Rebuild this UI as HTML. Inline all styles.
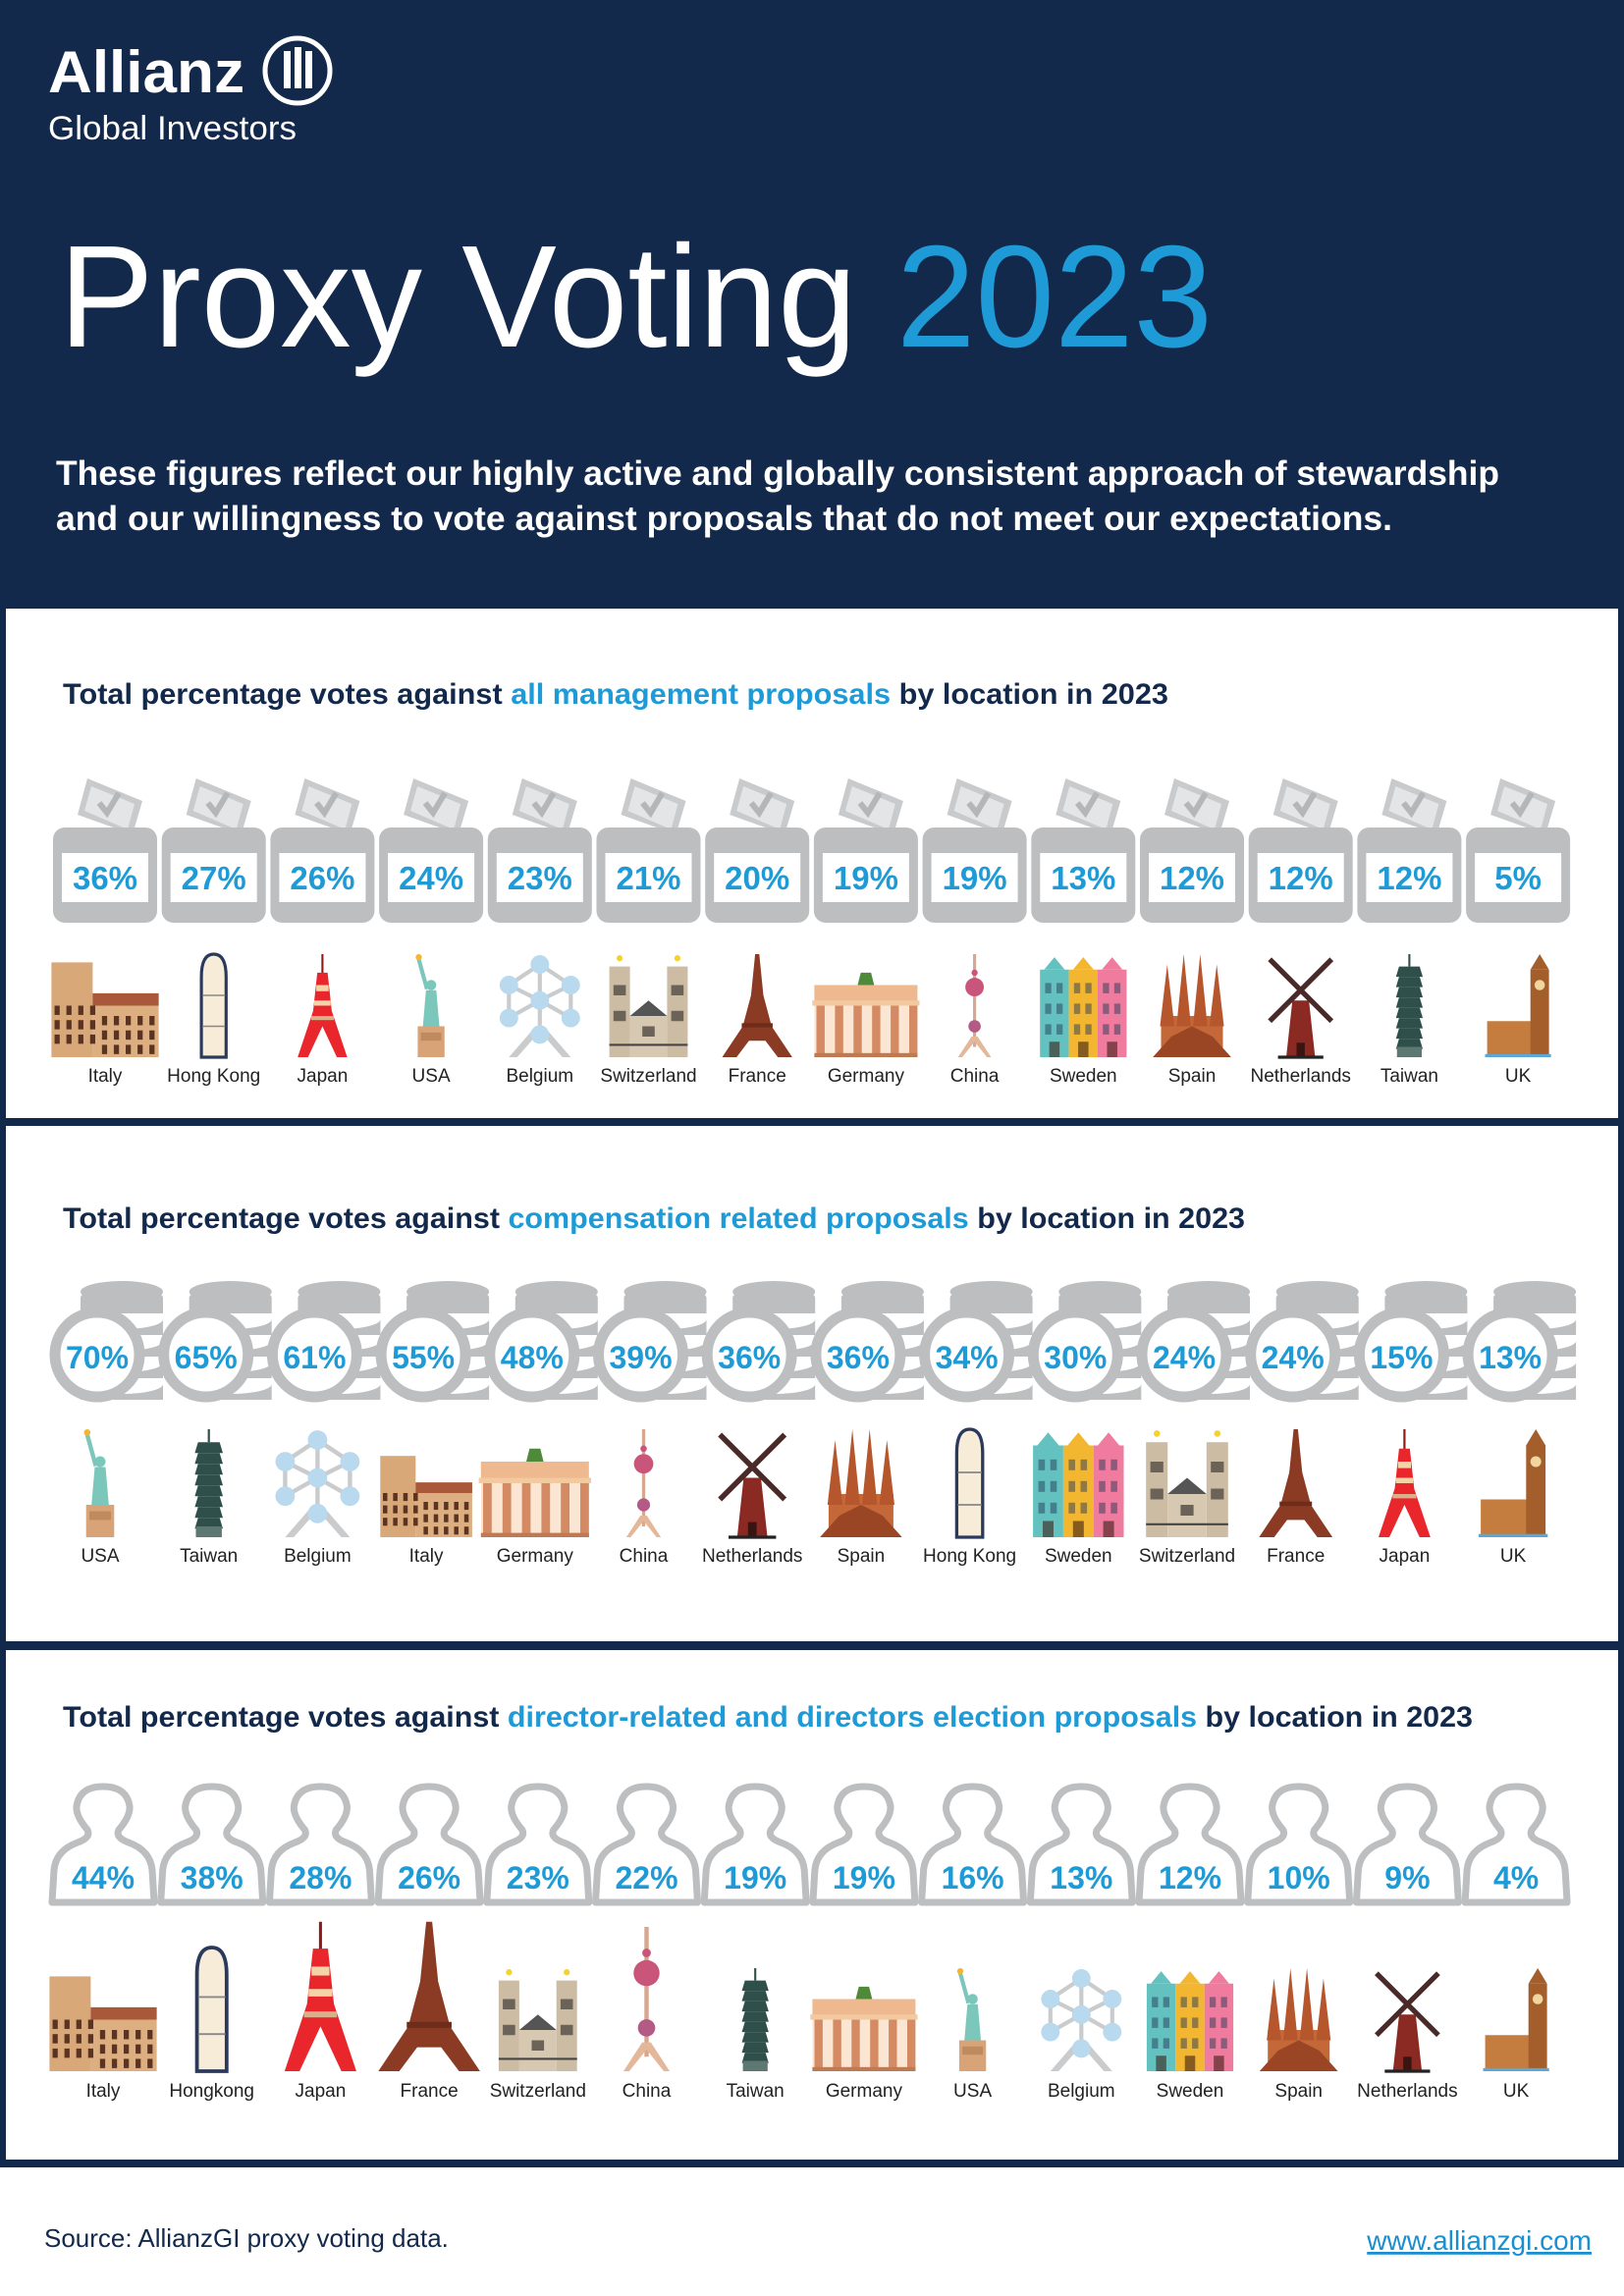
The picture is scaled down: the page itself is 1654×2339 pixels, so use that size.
<!DOCTYPE html>
<html><head><meta charset="utf-8"><title>Proxy Voting 2023</title>
<style>
html,body{margin:0;padding:0;background:#fff;}
svg{display:block;font-family:"Liberation Sans",Arial,sans-serif;}
</style></head>
<body>
<svg id="page" width="1654" height="2339" viewBox="0 0 1654 2339" xmlns="http://www.w3.org/2000/svg">
  <rect x="0" y="0" width="1654" height="2339" fill="#ffffff"/>
  <rect x="0" y="0" width="1654" height="2208" fill="#13294b"/>
  <g>
    <text x="49" y="94" font-size="60" font-weight="bold" fill="#fff" textLength="200" lengthAdjust="spacingAndGlyphs">Allianz</text>
    <circle cx="303" cy="72" r="33" fill="none" stroke="#fff" stroke-width="5"/>
    <rect x="289" y="52" width="7" height="38" fill="#fff"/>
    <rect x="300" y="48" width="7" height="42" fill="#fff"/>
    <rect x="311" y="52" width="7" height="38" fill="#fff"/>
    <text x="49" y="142" font-size="34" fill="#fff" textLength="253" lengthAdjust="spacingAndGlyphs">Global Investors</text>
  </g>
  <text x="60" y="353" font-size="148" fill="#fff" textLength="1175" lengthAdjust="spacingAndGlyphs">Proxy Voting <tspan fill="#1e9ad6">2023</tspan></text>
  <g font-size="35" font-weight="bold" fill="#fff">
    <text x="57" y="494" textLength="1470" lengthAdjust="spacingAndGlyphs">These figures reflect our highly active and globally consistent approach of stewardship</text>
    <text x="57" y="540" textLength="1361" lengthAdjust="spacingAndGlyphs">and our willingness to vote against proposals that do not meet our expectations.</text>
  </g>
  <rect x="6" y="620" width="1642" height="519" fill="#fff"/>
  <rect x="6" y="1147" width="1642" height="525" fill="#fff"/>
  <rect x="6" y="1681" width="1642" height="519" fill="#fff"/>

  <text x="64" y="717" font-size="30" font-weight="bold" fill="#13294b" textLength="1126" lengthAdjust="spacingAndGlyphs">Total percentage votes against <tspan fill="#1e9ad6">all management proposals</tspan> by location in 2023</text>
  <text x="64" y="1251" font-size="30" font-weight="bold" fill="#13294b" textLength="1204" lengthAdjust="spacingAndGlyphs">Total percentage votes against <tspan fill="#1e9ad6">compensation related proposals</tspan> by location in 2023</text>
  <text x="64" y="1759" font-size="30" font-weight="bold" fill="#13294b" textLength="1436" lengthAdjust="spacingAndGlyphs">Total percentage votes against <tspan fill="#1e9ad6">director-related and directors election proposals</tspan> by location in 2023</text>

  <g id="g1"></g>
  <g id="g2"></g>
  <g id="g3"></g>

  <text x="45" y="2289" font-size="26" fill="#13294b">Source: AllianzGI proxy voting data.</text>
  <a href="#"><text x="1621" y="2292" font-size="28" fill="#1a8fd0" text-anchor="end" text-decoration="underline">www.allianzgi.com</text></a>
</svg>
<script>
const mgmtCountries = ["Italy","Hong Kong","Japan","USA","Belgium","Switzerland","France","Germany","China","Sweden","Spain","Netherlands","Taiwan","UK"];
const mgmtValues = [36,27,26,24,23,21,20,19,19,13,12,12,12,5];
const compCountries = ["USA","Taiwan","Belgium","Italy","Germany","China","Netherlands","Spain","Hong Kong","Sweden","Switzerland","France","Japan","UK"];
const compValues = [70,65,61,55,48,39,36,36,34,30,24,24,15,13];
const dirCountries = ["Italy","Hongkong","Japan","France","Switzerland","China","Taiwan","Germany","USA","Belgium","Sweden","Spain","Netherlands","UK"];
const dirValues = [44,38,28,26,23,22,19,19,16,13,12,10,9,4];

const NS = "http://www.w3.org/2000/svg";
const GRAY = "#bcbec0", BLUE = "#1e9ad6";
function colX(i){ return 107 + i * 110.7; }
function mk(tag, attrs, parent){
  const e = document.createElementNS(NS, tag);
  for (const k in attrs) e.setAttribute(k, attrs[k]);
  if (parent) parent.appendChild(e);
  return e;
}

function landmark(name, cx, base, h, parent){
  const g = mk("g", {transform:`translate(${cx},${base}) scale(${h/100})`}, parent);
  
  
  const n = name.replace(/\s+/g,'').toLowerCase();
  if (n === "italy") {
    mk("rect",{x:-52,y:-92,width:40,height:92,fill:"#d9a878"},g);
    mk("rect",{x:-12,y:-62,width:64,height:62,fill:"#dcae80"},g);
    mk("rect",{x:-12,y:-62,width:64,height:12,fill:"#a9583a"},g);
    for (let r=0;r<3;r++) for (let c=0;c<9;c++){
      const x=-49+c*11.5, y=-40+r*14 - (c<4? 10:0);
      mk("rect",{x:x,y:y,width:5,height:9,fill:"#5a3420"},g);
    }
  } else if (n === "hongkong") {
    mk("path",{d:"M-12,0 L-12,-78 Q-12,-100 0,-100 Q12,-100 12,-78 L12,0 Z",fill:"#f6ecd8",stroke:"#2b3a5c","stroke-width":3},g);
    mk("line",{x1:-11,y1:-60,x2:11,y2:-60,stroke:"#888","stroke-width":1.5},g);
    mk("line",{x1:-11,y1:-30,x2:11,y2:-30,stroke:"#888","stroke-width":1.5},g);
  } else if (n === "japan") {
    mk("line",{x1:0,y1:-100,x2:0,y2:-80,stroke:"#8b1a1a","stroke-width":2},g);
    mk("polygon",{points:"-5,-82 5,-82 9,-45 24,0 14,0 0,-30 -14,0 -24,0 -9,-45",fill:"#e8262b"},g);
    mk("rect",{x:-6,y:-70,width:12,height:6,fill:"#f3d3a8"},g);
    mk("rect",{x:-8,y:-55,width:16,height:5,fill:"#f3d3a8"},g);
    mk("rect",{x:-11,y:-40,width:22,height:4,fill:"#d9b08a"},g);
  } else if (n === "usa") {
    mk("rect",{x:-13,y:-30,width:26,height:30,fill:"#d9a378"},g);
    mk("rect",{x:-10,y:-24,width:20,height:8,fill:"#c08a60"},g);
    mk("polygon",{points:"-8,-30 8,-30 5,-65 -5,-65",fill:"#7cc7bb"},g);
    mk("circle",{cx:0,cy:-70,r:5,fill:"#7cc7bb"},g);
    mk("line",{x1:-4,y1:-66,x2:-12,y2:-95,stroke:"#7cc7bb","stroke-width":4},g);
    mk("circle",{cx:-12,cy:-97,r:3,fill:"#f2b630"},g);
  } else if (n === "belgium") {
    const pts=[[0,-90],[-30,-70],[30,-70],[0,-55],[-30,-38],[30,-38],[0,-22]];
    [[0,3],[1,3],[2,3],[0,1],[0,2],[3,4],[3,5],[3,6],[1,4],[2,5]].forEach(p=>mk("line",{x1:pts[p[0]][0],y1:pts[p[0]][1],x2:pts[p[1]][0],y2:pts[p[1]][1],stroke:"#c9cbcd","stroke-width":4},g));
    mk("polygon",{points:"-4,-30 4,-30 30,0 22,0 0,-25 -22,0 -30,0",fill:"#c9cbcd"},g);
    pts.forEach(p=>mk("circle",{cx:p[0],cy:p[1],r:9,fill:"#b9d9ee"},g));
  } else if (n === "switzerland") {
    mk("rect",{x:-38,y:-88,width:20,height:88,fill:"#cdbca4"},g);
    mk("rect",{x:18,y:-88,width:20,height:88,fill:"#cdbca4"},g);
    mk("rect",{x:-18,y:-40,width:36,height:40,fill:"#d7c8b2"},g);
    mk("polygon",{points:"-18,-40 0,-55 18,-40",fill:"#555"},g);
    mk("circle",{cx:-28,cy:-96,r:3,fill:"#f2d330"},g);
    mk("circle",{cx:28,cy:-96,r:3,fill:"#f2d330"},g);
    [[-34,-70],[22,-70],[-34,-45],[22,-45],[-6,-30]].forEach(p=>mk("rect",{x:p[0],y:p[1],width:12,height:10,fill:"#6b6258"},g));
    mk("line",{x1:-38,y1:-12,x2:38,y2:-12,stroke:"#444","stroke-width":2},g);
  } else if (n === "france") {
    mk("polygon",{points:"-2,-100 2,-100 6,-60 14,-30 34,0 20,0 8,-16 -8,-16 -20,0 -34,0 -14,-30 -6,-60",fill:"#8b3a23"},g);
    mk("rect",{x:-15,y:-33,width:30,height:4,fill:"#6e2c1a"},g);
  } else if (n === "germany") {
    mk("rect",{x:-50,y:-70,width:100,height:18,fill:"#eeb98e"},g);
    mk("rect",{x:-52,y:-55,width:104,height:5,fill:"#f3c9a0"},g);
    mk("rect",{x:-50,y:-50,width:100,height:50,fill:"#fbe6d3"},g);
    for (let k=0;k<6;k++) mk("rect",{x:-48+k*18,y:-50,width:8,height:50,fill:"#d48a62"},g);
    mk("rect",{x:-50,y:-4,width:100,height:4,fill:"#c07a52"},g);
    mk("polygon",{points:"-8,-70 8,-70 5,-82 -5,-82",fill:"#4f8a3b"},g);
  } else if (n === "china") {
    mk("line",{x1:0,y1:-100,x2:0,y2:-10,stroke:"#d7a78f","stroke-width":3},g);
    mk("polygon",{points:"-3,-20 3,-20 16,0 12,0 0,-15 -12,0 -16,0",fill:"#e3b79a"},g);
    mk("circle",{cx:0,cy:-68,r:9,fill:"#c9557a"},g);
    mk("circle",{cx:0,cy:-30,r:6,fill:"#b35a85"},g);
    mk("circle",{cx:0,cy:-82,r:3,fill:"#c9557a"},g);
  } else if (n === "sweden") {
    const cs=[["#63c2c0",-42],["#f2b630",-14],["#ef7b9e",14]];
    cs.forEach(c=>{
      mk("rect",{x:c[1],y:-85,width:28,height:85,fill:c[0]},g);
      mk("polygon",{points:`${c[1]+4},-85 ${c[1]+14},-97 ${c[1]+24},-85`,fill:c[0]},g);
      for(let r=0;r<3;r++) for(let q=0;q<2;q++) mk("rect",{x:c[1]+5+q*11,y:-72+r*20,width:6,height:10,fill:"rgba(40,60,90,0.5)"},g);
      mk("rect",{x:c[1]+9,y:-15,width:10,height:15,fill:"rgba(60,30,20,0.6)"},g);
    });
  } else if (n === "spain") {
    mk("rect",{x:-30,y:-40,width:60,height:40,fill:"#c4683a"},g);
    [[-24,-90],[-8,-100],[8,-100],[24,-90]].forEach(p=>mk("polygon",{points:`${p[0]-7},-30 ${p[0]},${p[1]} ${p[0]+7},-30`,fill:"#b5562c"},g));
    mk("polygon",{points:"-38,0 -20,-20 0,-30 20,-20 38,0",fill:"#9a4524"},g);
  } else if (n === "netherlands") {
    mk("polygon",{points:"-14,0 -8,-55 8,-55 14,0",fill:"#8a2a22"},g);
    mk("rect",{x:-4,y:-14,width:8,height:14,fill:"#3a1410"},g);
    mk("line",{x1:-30,y1:-95,x2:30,y2:-35,stroke:"#4a2a28","stroke-width":5},g);
    mk("line",{x1:30,y1:-95,x2:-30,y2:-35,stroke:"#4a2a28","stroke-width":5},g);
    mk("line",{x1:-22,y1:0,x2:22,y2:0,stroke:"#222","stroke-width":3},g);
  } else if (n === "taiwan") {
    mk("line",{x1:0,y1:-100,x2:0,y2:-88,stroke:"#2f4f4a","stroke-width":2},g);
    for (let k=0;k<8;k++) mk("polygon",{points:`-10,${-88+k*10} 10,${-88+k*10} 13,${-78+k*10} -13,${-78+k*10}`,fill:"#2f4f4a"},g);
    mk("rect",{x:-12,y:-10,width:24,height:10,fill:"#5d7872"},g);
  } else if (n === "uk") {
    mk("rect",{x:-30,y:-35,width:46,height:35,fill:"#c47d3e"},g);
    mk("rect",{x:12,y:-85,width:18,height:85,fill:"#a35e2c"},g);
    mk("polygon",{points:"12,-85 21,-100 30,-85",fill:"#a35e2c"},g);
    mk("circle",{cx:21,cy:-70,r:5,fill:"#f0d7a0"},g);
    mk("rect",{x:-32,y:-3,width:64,height:3,fill:"#5ba7d8"},g);
  }
}

function label(text, cx, y, parent){
  const t = mk("text",{x:cx,y:y,"font-size":19,"text-anchor":"middle",fill:"#222"},parent);
  t.textContent = text;
  
  
}
function pct(v, cx, y, size, parent){
  const t = mk("text",{x:cx,y:y,"font-size":size,"font-weight":"bold","text-anchor":"middle",fill:BLUE},parent);
  t.textContent = v + "%";
  
  
}

const g1 = document.getElementById("g1");
mgmtValues.forEach((v,i)=>{
  const cx = colX(i);
  const b = mk("g",{},g1);
  
  
  mk("polygon",{points:`${cx-28},${830} ${cx-18},${793} ${cx+38},${816} ${cx+28},${850}`,fill:"#c9cacc"},b);
  mk("polygon",{points:`${cx-21},${826} ${cx-14},${801} ${cx+30},${819} ${cx+23},${845}`,fill:"#e4e5e6"},b);
  mk("polyline",{points:`${cx-6},${818} ${cx+2},${828} ${cx+14},${808}`,fill:"none",stroke:"#b5b6b8","stroke-width":6},b);
  mk("rect",{x:cx-53,y:843,width:106,height:97,rx:12,fill:GRAY},b);
  mk("rect",{x:cx-44,y:869,width:88,height:50,fill:"#fff"},b);
  pct(v, cx, 906, 33, g1);
  landmark(mgmtCountries[i], cx, 1077, 105, g1);
  label(mgmtCountries[i], cx, 1102, g1);
});

const g2 = document.getElementById("g2");
compValues.forEach((v,i)=>{
  const cx = colX(i) - 5;
  const b = mk("g",{},g2);
  
  
  const sx = cx + 22;
  for (let k=4;k>=0;k--){
    const y = 1322 + k*22;
    mk("rect",{x:sx-42,y:y,width:84,height:16,fill:GRAY},b);
    mk("ellipse",{cx:sx,cy:y,rx:42,ry:10,fill:k===0?GRAY:"#fff"},b);
  }
  mk("ellipse",{cx:sx,cy:1316,rx:42,ry:11,fill:GRAY},b);
  mk("circle",{cx:cx-3,cy:1380,r:43,fill:"#fff",stroke:GRAY,"stroke-width":11},b);
  pct(v, cx-3, 1394, 32, g2);
  const n = compCountries[i];
  landmark(n, cx, 1566, n==="Italy"?90:110, g2);
  label(n, cx, 1591, g2);
});

const g3 = document.getElementById("g3");
const tall = {Japan:1.45, France:1.45, China:1.4, Hongkong:1.2};
dirValues.forEach((v,i)=>{
  const cx = colX(i) - 2;
  const b = mk("g",{},g3);
  
  
  mk("path",{d:`M${cx-52},1938 L${cx-50},1905 Q${cx-48},1885 ${cx-26},1877 Q${cx-12},1872 ${cx-16},1864 Q${cx-28},1850 ${cx-27},1840 Q${cx-24},1820 ${cx},1820 Q${cx+24},1820 ${cx+27},1840 Q${cx+28},1850 ${cx+16},1864 Q${cx+12},1872 ${cx+26},1877 Q${cx+48},1885 ${cx+50},1905 L${cx+52},1938 Z`,fill:"#fff",stroke:GRAY,"stroke-width":7,"stroke-linejoin":"round"},b);
  pct(v, cx, 1924, 32, g3);
  const n = dirCountries[i];
  landmark(n, cx, 2110, 105*(tall[n]||1), g3);
  label(n, cx, 2136, g3);
});
</script>
</body></html>
